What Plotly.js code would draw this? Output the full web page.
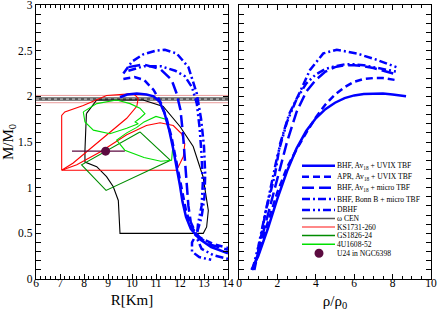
<!DOCTYPE html>
<html><head><meta charset="utf-8">
<script src="https://cdn.plot.ly/plotly-3.0.1.min.js"></script>
<style>html,body{margin:0;padding:0;background:#fff}</style>
</head><body><div id="c" style="width:437px;height:311px"></div>
<script>
// ---- Left panel: M vs R for the five EoS ----
const R_uvix = [9.5,9.8,10.2,10.6,10.9,11.15,11.35,11.55,11.72,11.86,12.0,12.1,12.25,12.45,12.8,13.3,14.0];
const M_uvix = [1.99,2.02,2.03,2.02,2.0,1.94,1.82,1.63,1.42,1.23,1.02,0.85,0.68,0.55,0.44,0.35,0.28];
const R_apr = [9.64,10.1,10.5,10.9,11.2,11.45,11.65,11.8,11.95,12.1,12.25,12.45,12.8,13.4,14.0];
const M_apr = [2.19,2.21,2.18,2.07,1.93,1.75,1.55,1.35,1.15,0.95,0.75,0.58,0.46,0.38,0.34];
const R_micro = [9.85,10.47,11.17,11.65,11.86,12.02,12.12,12.2,12.28,12.35,12.45,12.7,13.2,14.0];
const M_micro = [2.32,2.35,2.3,2.18,2.03,1.85,1.6,1.3,1.0,0.8,0.62,0.48,0.38,0.32];
const R_bonn = [9.64,10.0,10.47,11.0,11.37,11.86,12.35,12.7,12.88,13.0,13.05,13.02,12.9,12.7,12.5,12.5,12.8,13.3];
const M_bonn = [2.25,2.38,2.46,2.5,2.51,2.47,2.32,2.03,1.75,1.45,1.15,0.9,0.68,0.5,0.4,0.3,0.24,0.21];
const R_dbhf = [9.85,10.5,11.2,11.8,12.2,12.5,12.7,12.82,12.9,12.95,12.9,12.75,12.7,12.9,13.4,14.0];
const M_dbhf = [2.28,2.33,2.33,2.28,2.22,2.1,1.92,1.65,1.35,1.05,0.8,0.6,0.45,0.33,0.26,0.22];

// ---- Right panel: M vs rho/rho0 ----
const rho_uvix = [0.65,1.0,1.5,2.0,2.5,3.0,3.5,4.0,4.5,5.0,5.5,6.0,6.5,7.0,7.5,8.0,8.7];
const Mr_uvix  = [0.1,0.25,0.55,0.88,1.18,1.43,1.62,1.76,1.86,1.93,1.98,2.01,2.025,2.03,2.03,2.02,2.0];
const rho_apr = [0.7,1.0,1.5,2.0,2.5,3.0,3.5,4.0,4.5,5.0,5.5,6.0,6.5,7.0,7.5,8.1];
const Mr_apr  = [0.1,0.28,0.62,0.95,1.22,1.42,1.6,1.77,1.91,2.02,2.1,2.16,2.19,2.2,2.2,2.18];
const rho_micro = [0.75,1.0,1.5,2.0,2.5,3.0,3.5,4.0,4.5,5.0,5.5,6.0,6.5,7.0,7.5,8.2];
const Mr_micro  = [0.1,0.3,0.72,1.12,1.5,1.83,2.05,2.18,2.27,2.32,2.34,2.34,2.33,2.31,2.28,2.24];
const rho_bonn = [0.8,1.0,1.4,1.87,2.14,2.6,3.18,3.7,4.39,5.09,6.13,7.17,8.2];
const Mr_bonn  = [0.1,0.3,0.75,1.14,1.48,1.8,2.05,2.29,2.47,2.51,2.47,2.4,2.32];
const rho_dbhf = [0.7,1.0,1.5,2.0,2.5,3.0,3.5,4.0,4.5,5.0,5.5,6.0,6.5,7.0,7.5,8.2];
const Mr_dbhf  = [0.1,0.35,0.85,1.35,1.72,1.97,2.14,2.24,2.3,2.33,2.35,2.35,2.34,2.32,2.3,2.27];

// ---- Observational constraints ----
const R_wcen = [8.1,8.53,10.46,11.3,12.0,12.55,12.96,13.18,13.11,12.97,9.5,9.43,9.22,8.94,8.53,8.04,8.04,8.1];
const M_wcen = [1.81,1.96,1.96,1.89,1.67,1.45,1.12,0.75,0.57,0.5,0.5,0.86,1.01,1.12,1.23,1.28,1.41,1.81];
const R_ks_a = [7.07,7.07,7.2,7.97,8.94,10.05,10.26,10.2,9.78,8.67,7.55,7.07];
const M_ks_a = [1.19,1.79,1.83,1.9,2.01,2.03,1.98,1.89,1.76,1.52,1.27,1.19];
const R_ks_b = [7.07,11.86,12.14,12.2,12.07,11.72,11.17,10.6,9.78,8.67,7.7,7.07];
const M_ks_b = [1.19,1.19,1.34,1.48,1.59,1.68,1.71,1.68,1.58,1.39,1.25,1.19];
const R_gs = [10.33,11.6,8.92,7.9,10.33];
const M_gs = [1.61,1.3,0.97,1.25,1.61];
const R_4u_a = [7.97,8.53,9.36,9.92,10.33,10.54,10.33,10.13,10.26,9.78,9.08,8.39,8.04,7.97];
const M_4u_a = [1.83,1.92,1.96,1.92,1.87,1.81,1.76,1.72,1.7,1.65,1.59,1.63,1.72,1.83];
const R_4u_b = [10.5,11.0,11.4,11.55,11.7,11.65,11.2,10.5,9.7,9.36,9.78,10.2,10.5];
const M_4u_b = [1.72,1.78,1.75,1.62,1.45,1.3,1.29,1.33,1.41,1.52,1.6,1.66,1.72];
const R_u24 = [8.9], M_u24 = [1.4], R_u24_plus = [0.8], R_u24_minus = [1.4];
const M_psr = [1.93,1.97,2.01];
const R_span = [6,14];

const legendLabels = ['BHF, Av<sub>18</sub> + UVIX TBF','APR, Av<sub>18</sub> + UVIX TBF','BHF, Av<sub>18</sub> + micro TBF',
  'BHF, Bonn B + micro TBF','DBHF','ω CEN','KS1731-260','GS1826-24','4U1608-52','U24 in NGC6398'];

const BLUE = '#0000ff';
const dashes = {uvix:'solid', apr:'7px,4px', micro:'12px,5px', bonn:'8px,3px,2px,3px', dbhf:'8px,3px,2px,3px,2px,3px'};
const MAROON = '#5c0b40';

function ln(x,y,color,width,dash,xa,ya){return {x:x,y:y,type:'scatter',mode:'lines',xaxis:xa||'x',yaxis:ya||'y',
  line:{color:color,width:width,dash:dash||'solid'},hoverinfo:'skip'};}

const traces = [
  ln(R_span,[M_psr[2],M_psr[2]],'#e89a9a',1),
  ln(R_span,[M_psr[0],M_psr[0]],'#e89a9a',1),
  ln(R_span,[M_psr[1],M_psr[1]],'#5a5a5a',3.5),
  ln(R_span,[M_psr[1],M_psr[1]],'#d8d8d8',1,'dot'),
  ln(R_wcen,M_wcen,'#000000',1.1),
  ln(R_ks_a,M_ks_a,'#ff0000',1.1),
  ln(R_ks_b,M_ks_b,'#ff0000',1.1),
  ln(R_gs,M_gs,'#008c00',1.1),
  ln(R_4u_a,M_4u_a,'#00e000',1.1),
  ln(R_4u_b,M_4u_b,'#00e000',1.1),
  ln(R_uvix,M_uvix,BLUE,2.5,dashes.uvix),
  ln(R_apr,M_apr,BLUE,2.5,dashes.apr),
  ln(R_micro,M_micro,BLUE,2.5,dashes.micro),
  ln(R_bonn,M_bonn,BLUE,2.5,dashes.bonn),
  ln(R_dbhf,M_dbhf,BLUE,2.5,dashes.dbhf),
  {x:R_u24,y:M_u24,type:'scatter',mode:'markers',xaxis:'x',yaxis:'y',marker:{color:MAROON,size:9},
   error_x:{type:'data',symmetric:false,array:R_u24_plus,arrayminus:R_u24_minus,color:MAROON,thickness:1.3,width:0},hoverinfo:'skip'},
  ln(rho_uvix,Mr_uvix,BLUE,2.5,dashes.uvix,'x2','y2'),
  ln(rho_apr,Mr_apr,BLUE,2.5,dashes.apr,'x2','y2'),
  ln(rho_micro,Mr_micro,BLUE,2.5,dashes.micro,'x2','y2'),
  ln(rho_bonn,Mr_bonn,BLUE,2.5,dashes.bonn,'x2','y2'),
  ln(rho_dbhf,Mr_dbhf,BLUE,2.5,dashes.dbhf,'x2','y2'),
  // empty traces that attach the label-only overlay x axes
  {x:[],y:[],type:'scatter',mode:'lines',xaxis:'x3',yaxis:'y',hoverinfo:'skip'},
  {x:[],y:[],type:'scatter',mode:'lines',xaxis:'x4',yaxis:'y2',hoverinfo:'skip'}
];

// manual legend (pixel layout -> paper coords)
const L=36, T=5, W=395, H=274;
const px2x = p => (p-L)/W, py2y = p => (T+H-p)/H;
const rowsPx = [165.7,176.7,187.7,199,210,218.5,227,235.5,244.3,253.3];
const legStyles = [
  {c:BLUE,w:2.5,d:dashes.uvix},{c:BLUE,w:2.5,d:dashes.apr},{c:BLUE,w:2.5,d:dashes.micro},
  {c:BLUE,w:2.5,d:dashes.bonn},{c:BLUE,w:2.5,d:dashes.dbhf},
  {c:'#555555',w:1.5,d:'solid'},{c:'#ff6060',w:1.5,d:'solid'},{c:'#008c00',w:1.5,d:'solid'},{c:'#00e000',w:1.5,d:'solid'},null];
const shapes=[], annotations=[];
rowsPx.forEach((py,i)=>{
  const s=legStyles[i];
  if(s){shapes.push({type:'line',xref:'paper',yref:'paper',x0:px2x(302),x1:px2x(335),y0:py2y(py),y1:py2y(py),
    line:{color:s.c,width:s.w,dash:s.d}});}
  else{shapes.push({type:'circle',xref:'paper',yref:'paper',x0:px2x(314.5),x1:px2x(323.5),y0:py2y(py+4.5),y1:py2y(py-4.5),
    fillcolor:MAROON,line:{color:MAROON,width:0}});}
  annotations.push({xref:'paper',yref:'paper',x:px2x(335),y:py2y(py),xanchor:'left',yanchor:'middle',showarrow:false,
    text:legendLabels[i],font:{family:'Liberation Serif, serif',size:7.6,color:'#000'}});
});

const TF = {family:'Liberation Serif, serif',size:11.5,color:'#000'};
const ax = {showline:true,linecolor:'black',linewidth:1.3,mirror:'allticks',ticks:'inside',ticklen:5,tickwidth:1,
  tickcolor:'black',showgrid:false,zeroline:false,fixedrange:true,showticklabels:false,color:'#000'};
// label-only x axes, nudged towards the frame so the numbers sit close to it
const lab = {showline:false,ticks:'',showgrid:false,zeroline:false,fixedrange:true,ticklabeloverflow:'allow',
  tickfont:TF,color:'#000',anchor:'free'};
const xDomL=[0,px2x(228)], xDomR=[px2x(239),1];
const layout = {
  width:437,height:311,margin:{l:L,r:6,t:T,b:32},showlegend:false,
  paper_bgcolor:'white',plot_bgcolor:'white',
  font:{family:'Liberation Serif, serif',size:12,color:'black'},
  xaxis:Object.assign({},ax,{domain:xDomL,range:[6,14],tick0:6,dtick:1,anchor:'y',
    minor:{dtick:0.2,ticks:'inside',ticklen:3,tickcolor:'black'}}),
  yaxis:Object.assign({},ax,{domain:[0,1],range:[0,3],tick0:0,dtick:0.5,anchor:'x',
    showticklabels:true,ticklabeloverflow:'allow',tickfont:TF,
    minor:{dtick:0.1,ticks:'inside',ticklen:3,tickcolor:'black'},
    title:{text:'M/M<sub>0</sub>',font:{size:15,color:'#000'},standoff:3}}),
  xaxis2:Object.assign({},ax,{domain:xDomR,range:[0,10],tick0:0,dtick:2,anchor:'y2',
    minor:{dtick:0.5,ticks:'inside',ticklen:3,tickcolor:'black'}}),
  yaxis2:Object.assign({},ax,{domain:[0,1],range:[0,3],tick0:0,dtick:0.5,anchor:'x2',
    minor:{dtick:0.1,ticks:'inside',ticklen:3,tickcolor:'black'}}),
  xaxis3:Object.assign({},lab,{overlaying:'x',domain:xDomL,range:[6,14],tick0:6,dtick:1,position:5/H,side:'bottom',
    title:{text:'R[Km]',font:{size:15,color:'#000'},standoff:6}}),
  xaxis4:Object.assign({},lab,{overlaying:'x2',domain:xDomR,range:[0,10],tick0:0,dtick:2,position:5/H,side:'bottom',
    title:{text:'ρ/ρ<sub>0</sub>',font:{size:15,color:'#000'},standoff:8}}),
  shapes:shapes,annotations:annotations
};
Plotly.newPlot('c',traces,layout,{displayModeBar:false,staticPlot:true});
</script></body></html>
